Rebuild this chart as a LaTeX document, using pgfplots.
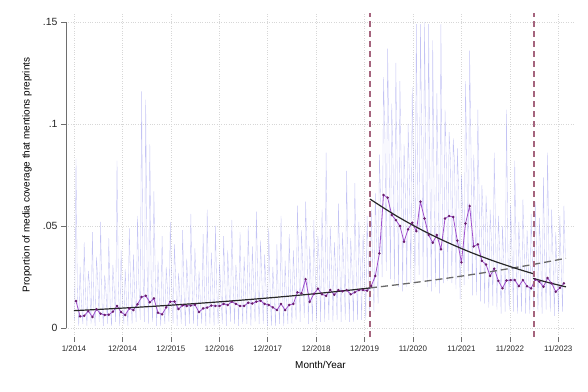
\documentclass[border=0pt]{standalone}
\usepackage{fontspec}
\setmainfont{Liberation Sans}
\usepackage{pgfplots}
\pgfplotsset{compat=1.18}
\definecolor{bgline}{RGB}{130,130,232}
\definecolor{mline}{RGB}{160,80,205}
\definecolor{mmark}{RGB}{105,30,110}
\definecolor{fitc}{RGB}{40,40,40}
\definecolor{cfc}{RGB}{105,105,105}
\definecolor{vline}{RGB}{165,100,125}
\definecolor{gridc}{RGB}{215,215,215}
\definecolor{axc}{RGB}{110,110,110}
\begin{document}
\begin{tikzpicture}
\begin{axis}[
  scale only axis, width=509bp, height=324bp,
  xmin=-2.44, xmax=121.7, ymin=-0.00441, ymax=0.15441,
  axis x line*=bottom, axis y line*=left,
  axis line style={draw=none},
  tick align=outside, major tick length=5bp,
  every tick/.style={axc, line width=0.6bp},
  xtick={-0.49,11.32,23.13,34.95,46.76,58.57,70.38,82.19,94.01,105.82,117.63},
  xticklabels={1/2014,12/2014,12/2015,12/2016,12/2017,12/2018,12/2019,11/2020,11/2021,11/2022,11/2023},
  ytick={0,0.05,0.1,0.15},
  yticklabels={0,.05,.1,.15},
  /pgf/number format/assume math mode=true,
  xticklabel style={font=\fontsize{8}{9.6}\selectfont, text=black!85},
  yticklabel style={font=\fontsize{10.5}{12}\selectfont, text=black!85},
  grid=major, major grid style={gridc, dotted, line width=0.6bp},
  xlabel={Month/Year}, ylabel={Proportion of media coverage that mentions preprints},
  label style={font=\fontsize{10.3}{12}\selectfont, text=black!85},
  every axis x label/.style={at={(axis description cs:0.5,-0.0864)}, anchor=center},
  every axis y label/.style={at={(axis description cs:-0.0766,0.5)}, rotate=90, anchor=center},
  clip=true, unbounded coords=jump,
]
% daily-like background series
\addplot[bgline, opacity=0.48, line width=0.35bp] coordinates {
(-0.33,0.004)(0,0.083)(0.33,0.018)
(0.67,0.001)(1,0.030)(1.33,0.012)
(1.67,0.002)(2,0.042)(2.33,0.015)
(2.67,0.001)(3,0.028)(3.33,0.020)
(3.67,0.002)(4,0.047)(4.33,0.011)
(4.67,0.001)(5,0.035)(5.33,0.022)
(5.67,0.003)(6,0.052)(6.33,0.013)
(6.67,0.001)(7,0.026)(7.33,0.017)
(7.67,0.002)(8,0.044)(8.33,0.012)
(8.67,0.001)(9,0.031)(9.33,0.019)
(9.67,0.003)(10,0.082)(10.33,0.021)
(10.67,0.001)(11,0.038)(11.33,0.014)
(11.67,0.002)(12,0.029)(12.33,0.012)
(12.67,0.001)(13,0.049)(13.33,0.020)
(13.67,0.002)(14,0.036)(14.33,0.016)
(14.67,0.003)(15,0.055)(15.33,0.022)
(15.67,0.004)(16,0.116)(16.33,0.026)
(16.67,0.003)(17,0.112)(17.33,0.030)
(17.67,0.002)(18,0.090)(18.33,0.024)
(18.67,0.003)(19,0.067)(19.33,0.025)
(19.67,0.001)(20,0.033)(20.33,0.014)
(20.67,0.001)(21,0.045)(21.33,0.012)
(21.67,0.002)(22,0.030)(22.33,0.018)
(22.67,0.003)(23,0.052)(23.33,0.022)
(23.67,0.002)(24,0.041)(24.33,0.023)
(24.67,0.001)(25,0.027)(25.33,0.016)
(25.67,0.002)(26,0.048)(26.33,0.019)
(26.67,0.001)(27,0.034)(27.33,0.018)
(27.67,0.002)(28,0.056)(28.33,0.020)
(28.67,0.002)(29,0.039)(29.33,0.021)
(29.67,0.001)(30,0.028)(30.33,0.013)
(30.67,0.002)(31,0.046)(31.33,0.017)
(31.67,0.001)(32,0.058)(32.33,0.018)
(32.67,0.002)(33,0.037)(33.33,0.020)
(33.67,0.001)(34,0.050)(34.33,0.019)
(34.67,0.002)(35,0.032)(35.33,0.018)
(35.67,0.002)(36,0.045)(36.33,0.021)
(36.67,0.001)(37,0.038)(37.33,0.019)
(37.67,0.003)(38,0.053)(38.33,0.023)
(38.67,0.002)(39,0.031)(39.33,0.021)
(39.67,0.001)(40,0.047)(40.33,0.018)
(40.67,0.002)(41,0.035)(41.33,0.019)
(41.67,0.002)(42,0.050)(42.33,0.022)
(42.67,0.001)(43,0.040)(43.33,0.021)
(43.67,0.003)(44,0.057)(44.33,0.023)
(44.67,0.002)(45,0.043)(45.33,0.024)
(45.67,0.002)(46,0.036)(46.33,0.020)
(46.67,0.001)(47,0.049)(47.33,0.019)
(47.67,0.001)(48,0.030)(48.33,0.017)
(48.67,0.001)(49,0.041)(49.33,0.015)
(49.67,0.002)(50,0.055)(50.33,0.021)
(50.67,0.001)(51,0.033)(51.33,0.015)
(51.67,0.002)(52,0.046)(52.33,0.019)
(52.67,0.002)(53,0.038)(53.33,0.021)
(53.67,0.004)(54,0.060)(54.33,0.030)
(54.67,0.003)(55,0.048)(55.33,0.029)
(55.67,0.005)(56,0.062)(56.33,0.038)
(56.67,0.002)(57,0.040)(57.33,0.022)
(57.67,0.003)(58,0.053)(58.33,0.028)
(58.67,0.004)(59,0.045)(59.33,0.032)
(59.67,0.003)(60,0.058)(60.33,0.028)
(60.67,0.003)(61,0.086)(61.33,0.027)
(61.67,0.004)(62,0.050)(62.33,0.031)
(62.67,0.003)(63,0.042)(63.33,0.028)
(63.67,0.004)(64,0.061)(64.33,0.031)
(64.67,0.003)(65,0.047)(65.33,0.030)
(65.67,0.004)(66,0.077)(66.33,0.031)
(66.67,0.003)(67,0.044)(67.33,0.028)
(67.67,0.003)(68,0.071)(68.33,0.030)
(68.67,0.004)(69,0.052)(69.33,0.031)
(69.67,0.004)(70,0.046)(70.33,0.031)
(70.67,0.004)(71,0.055)(71.33,0.030)
(71.67,0.006)(72,0.058)(72.33,0.034)
(72.67,0.008)(73,0.066)(73.33,0.042)
(73.67,0.012)(74,0.085)(74.33,0.060)
(74.67,0.025)(75,0.123)(75.33,0.095)
(75.67,0.028)(76,0.137)(76.33,0.090)
(76.67,0.024)(77,0.110)(77.33,0.080)
(77.67,0.022)(78,0.130)(78.33,0.078)
(78.67,0.020)(79,0.121)(79.33,0.075)
(79.67,0.018)(80,0.090)(80.33,0.065)
(80.67,0.020)(81,0.100)(81.33,0.072)
(81.67,0.022)(82,0.118)(82.33,0.075)
(82.67,0.021)(83,0.149)(83.33,0.070)
(83.67,0.026)(84,0.149)(84.33,0.090)
(84.67,0.023)(85,0.150)(85.33,0.080)
(85.67,0.020)(86,0.149)(86.33,0.070)
(86.67,0.018)(87,0.141)(87.33,0.065)
(87.67,0.020)(88,0.115)(88.33,0.072)
(88.67,0.017)(89,0.149)(89.33,0.062)
(89.67,0.022)(90,0.107)(90.33,0.080)
(90.67,0.023)(91,0.096)(91.33,0.082)
(91.67,0.022)(92,0.093)(92.33,0.080)
(92.67,0.019)(93,0.088)(93.33,0.068)
(93.67,0.014)(94,0.075)(94.33,0.055)
(94.67,0.021)(95,0.121)(95.33,0.078)
(95.67,0.024)(96,0.136)(96.33,0.088)
(96.67,0.016)(97,0.085)(97.33,0.060)
(97.67,0.016)(98,0.107)(98.33,0.062)
(98.67,0.013)(99,0.070)(99.33,0.052)
(99.67,0.012)(100,0.065)(100.33,0.048)
(100.67,0.010)(101,0.058)(101.33,0.042)
(101.67,0.011)(102,0.086)(102.33,0.046)
(102.67,0.009)(103,0.055)(103.33,0.038)
(103.67,0.007)(104,0.050)(104.33,0.033)
(104.67,0.008)(105,0.107)(105.33,0.038)
(105.67,0.009)(106,0.060)(106.33,0.037)
(106.67,0.008)(107,0.082)(107.33,0.038)
(107.67,0.007)(108,0.052)(108.33,0.033)
(108.67,0.008)(109,0.063)(109.33,0.037)
(109.67,0.007)(110,0.048)(110.33,0.033)
(110.67,0.007)(111,0.056)(111.33,0.031)
(111.67,0.009)(112,0.062)(112.33,0.038)
(112.67,0.008)(113,0.054)(113.33,0.036)
(113.67,0.007)(114,0.074)(114.33,0.032)
(114.67,0.009)(115,0.086)(115.33,0.039)
(115.67,0.008)(116,0.058)(116.33,0.035)
(116.67,0.006)(117,0.047)(117.33,0.029)
(117.67,0.007)(118,0.055)(118.33,0.031)
(118.67,0.008)(119,0.060)(119.33,0.035)
};
% monthly series
\addplot[mline, line width=0.8bp, mark=*, mark size=0.8bp, mark options={mmark, fill=mmark, draw=mmark}] coordinates {
(0,0.0132)(1,0.0057)(2,0.0060)(3,0.0083)(4,0.0054)(5,0.0092)(6,0.0070)(7,0.0064)(8,0.0065)(9,0.0080)
(10,0.0108)(11,0.0078)(12,0.0064)(13,0.0096)(14,0.0088)(15,0.0116)(16,0.0152)(17,0.0158)(18,0.0126)(19,0.0145)
(20,0.0075)(21,0.0067)(22,0.0101)(23,0.0129)(24,0.0130)(25,0.0093)(26,0.0111)(27,0.0108)(28,0.0110)(29,0.0114)
(30,0.0078)(31,0.0096)(32,0.0100)(33,0.0110)(34,0.0108)(35,0.0108)(36,0.0118)(37,0.0113)(38,0.0129)(39,0.0118)
(40,0.0108)(41,0.0108)(42,0.0124)(43,0.0120)(44,0.0129)(45,0.0134)(46,0.0118)(47,0.0113)(48,0.0101)(49,0.0088)
(50,0.0118)(51,0.0088)(52,0.0113)(53,0.0118)(54,0.0175)(55,0.0170)(56,0.0239)(57,0.0128)(58,0.0167)(59,0.0193)
(60,0.0165)(61,0.0158)(62,0.0186)(63,0.0163)(64,0.0186)(65,0.0180)(66,0.0186)(67,0.0165)(68,0.0175)(69,0.0186)
(70,0.0186)(71,0.0183)(72,0.0206)(73,0.0255)(74,0.0366)(75,0.0652)(76,0.0639)(77,0.0554)(78,0.0529)(79,0.0500)
(80,0.0423)(81,0.0484)(82,0.0516)(83,0.0475)(84,0.0619)(85,0.0537)(86,0.0456)(87,0.0418)(88,0.0456)(89,0.0386)
(90,0.0537)(91,0.0549)(92,0.0544)(93,0.0428)(94,0.0322)(95,0.0512)(96,0.0598)(97,0.0400)(98,0.0410)(99,0.0329)
(100,0.0311)(101,0.0255)(102,0.0291)(103,0.0231)(104,0.0195)(105,0.0233)(106,0.0235)(107,0.0235)(108,0.0205)(109,0.0235)
(110,0.0205)(111,0.0194)(112,0.0238)(113,0.0227)(114,0.0202)(115,0.0245)(116,0.0219)(117,0.0178)(118,0.0197)(119,0.0219)
};
% counterfactual trend (dashed)
\addplot[cfc, line width=1.3bp, dash pattern=on 7bp off 4bp, smooth] coordinates {
(71.7,0.01964)(78,0.02113)(84,0.02265)(90,0.02428)(96,0.02603)(102,0.02791)(108,0.02992)(114,0.03208)(119.5,0.0342)
};
% pre-period fit
\addplot[fitc, line width=1.2bp, smooth] coordinates {
(-0.5,0.0085)(6,0.00916)(12,0.00983)(18,0.01053)(24,0.0113)(30,0.01211)(36,0.01298)(42,0.01392)(48,0.01492)(54,0.0160)(60,0.01715)(66,0.01838)(71.7,0.01964)
};
% post-period fit
\addplot[fitc, line width=1.2bp, smooth] coordinates {
(71.7,0.0632)(78,0.05512)(84,0.0484)(90,0.04249)(96,0.0373)(102,0.03275)(108,0.02875)(111.5,0.02664)
};
\addplot[fitc, line width=1.2bp, smooth] coordinates {
(111.5,0.0243)(115,0.02239)(119.5,0.02015)
};
% intervention lines
\addplot[draw=vline, line width=2bp, dash pattern=on 6bp off 4bp] coordinates {(71.7,-0.00441)(71.7,0.15441) (71.7,nan) (111.6,-0.00441)(111.6,0.15441)};
% axis lines
\draw[axc, line width=0.6bp] (axis cs:-0.49,-0.00441) -- (axis cs:117.63,-0.00441);
\draw[axc, line width=0.6bp] (axis cs:-2.44,0) -- (axis cs:-2.44,0.15);
\end{axis}
\path[use as bounding box] (-66bp,-55bp) rectangle (522bp,337bp);
\end{tikzpicture}
\end{document}
